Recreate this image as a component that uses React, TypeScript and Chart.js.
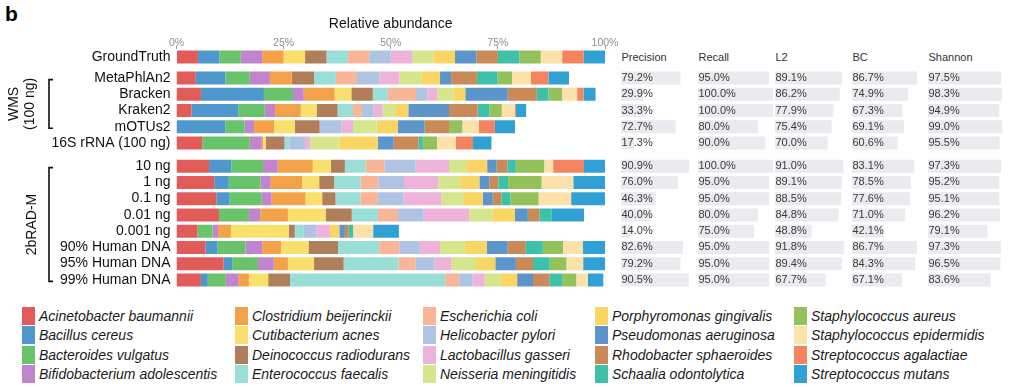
import React, { useEffect, useRef } from "react";
import { Chart, registerables } from "chart.js";

Chart.register(...registerables);

const FONT = "'Liberation Sans', Arial, Helvetica, sans-serif";
Chart.defaults.font.family = FONT;

// ---------- categories ----------
const species = [
  "Acinetobacter baumannii", "Bacillus cereus", "Bacteroides vulgatus", "Bifidobacterium adolescentis",
  "Clostridium beijerinckii", "Cutibacterium acnes", "Deinococcus radiodurans", "Enterococcus faecalis",
  "Escherichia coli", "Helicobacter pylori", "Lactobacillus gasseri", "Neisseria meningitidis",
  "Porphyromonas gingivalis", "Pseudomonas aeruginosa", "Rhodobacter sphaeroides", "Schaalia odontolytica",
  "Staphylococcus aureus", "Staphylococcus epidermidis", "Streptococcus agalactiae", "Streptococcus mutans",
];
const speciesColors = [
  "#E15C58", "#4E98CD", "#69C36B", "#C184CF",
  "#F4A24A", "#F9E06C", "#B17E5C", "#9ADED8",
  "#F8B597", "#AFC4E3", "#EDB3D8", "#D5E68D",
  "#F9D663", "#5C95CA", "#CA8A58", "#3DC1AA",
  "#93C25A", "#FCE1AA", "#F3845F", "#31A0D5",
];

const groundTruthLabels = ["GroundTruth"];
const wmsLabels = ["MetaPhlAn2", "Bracken", "Kraken2", "mOTUs2", "16S rRNA (100 ng)"];
const radLabels = ["10 ng", "1 ng", "0.1 ng", "0.01 ng", "0.001 ng", "90% Human DNA", "95% Human DNA", "99% Human DNA"];
const abundanceTicks = [0, 25, 50, 75, 100];

// ---------- relative abundance (%) per sample, species order ----------
const groundTruth = [5, 5, 5, 5, 5, 5, 5, 5, 5, 5, 5, 5, 5, 5, 5, 5, 5, 5, 5, 5];
const metaPhlAn2 = [4.5, 6.9, 5.7, 4.7, 5.1, 0, 5.2, 5.1, 4.9, 5.3, 4.6, 5.1, 4.4, 2.6, 6.0, 4.8, 3.4, 4.4, 4.1, 4.8];
const bracken = [5.7, 14.7, 6.8, 2.5, 7.2, 3.9, 5.0, 3.5, 6.6, 2.7, 2.3, 3.7, 2.8, 9.9, 6.8, 2.7, 3.2, 3.5, 1.5, 2.8];
const kraken2 = [3.5, 10.9, 6.2, 2.4, 6.0, 3.7, 4.9, 3.6, 2.1, 2.6, 2.2, 2.9, 3.1, 9.5, 6.7, 2.7, 2.9, 3.1, 0.2, 2.4];
const mOTUs2 = [0, 11.4, 4.5, 2.2, 4.7, 4.8, 5.8, 0, 0, 5.1, 2.7, 5.5, 5.0, 6.2, 5.7, 0, 3.1, 3.9, 3.7, 4.7];
const rRNA16S = [6.0, 0, 11.1, 2.8, 0.3, 0.6, 4.4, 1.2, 0, 3.6, 1.2, 6.8, 9.0, 3.7, 5.8, 1.0, 3.3, 4.4, 4.0, 4.3];
const rad10ng = [7.6, 5.2, 7.4, 3.4, 8.2, 4.2, 3.3, 4.8, 4.5, 7.2, 7.8, 4.2, 4.7, 2.2, 2.5, 2.0, 6.6, 2.1, 7.2, 5.0];
const rad1ng = [8.8, 3.4, 7.4, 2.4, 7.3, 4.0, 3.5, 6.2, 4.1, 6.0, 8.0, 5.1, 4.5, 2.3, 2.1, 2.3, 7.8, 7.4, 0, 7.6];
const rad01ng = [9.3, 3.1, 7.5, 2.3, 7.9, 3.9, 3.1, 5.8, 4.1, 6.0, 8.8, 5.0, 4.7, 2.3, 2.0, 2.1, 6.6, 7.6, 0, 7.9];
const rad001ng = [9.9, 0, 7.0, 2.7, 6.4, 8.8, 6.1, 6.1, 4.7, 6.0, 10.6, 5.5, 5.2, 3.0, 2.7, 2.9, 0, 0, 0, 7.5];
const rad0001ng = [4.9, 0, 3.5, 1.3, 3.0, 13.5, 1.4, 2.1, 0, 3.0, 3.1, 0, 2.2, 1.3, 0.9, 1.0, 0, 4.7, 0, 6.0];
const human90 = [6.8, 2.8, 6.5, 3.9, 4.4, 6.4, 6.9, 9.6, 4.7, 4.8, 4.7, 5.8, 5.1, 4.9, 4.2, 4.0, 4.7, 4.6, 0, 5.5];
const human95 = [11.0, 2.0, 6.0, 3.7, 3.3, 6.1, 6.9, 12.8, 4.0, 4.4, 4.0, 5.7, 4.5, 4.8, 4.0, 3.9, 3.9, 3.9, 0, 5.1];
const human99 = [5.7, 1.6, 4.2, 2.9, 2.5, 4.5, 5.1, 36.2, 3.3, 3.0, 2.9, 3.7, 3.9, 3.7, 3.8, 3.0, 3.3, 2.7, 0, 3.6];

const wmsAbundance = [metaPhlAn2, bracken, kraken2, mOTUs2, rRNA16S];
const radAbundance = [rad10ng, rad1ng, rad01ng, rad001ng, rad0001ng, human90, human95, human99];

// ---------- metrics (%), rows: WMS group then 2bRAD-M group ----------
const metricNames = ["Precision", "Recall", "L2", "BC", "Shannon"];
const precision = [79.2, 29.9, 33.3, 72.7, 17.3, 90.9, 76.0, 46.3, 40.0, 14.0, 82.6, 79.2, 90.5];
const recall = [95.0, 100.0, 100.0, 80.0, 90.0, 100.0, 95.0, 95.0, 80.0, 75.0, 95.0, 95.0, 95.0];
const l2 = [89.1, 86.2, 77.9, 75.4, 70.0, 91.0, 89.1, 88.5, 84.8, 48.8, 91.8, 89.4, 67.7];
const bc = [86.7, 74.9, 67.3, 69.1, 60.6, 83.1, 78.5, 77.6, 71.0, 42.1, 86.7, 84.3, 67.1];
const shannon = [97.5, 98.3, 94.9, 99.0, 95.5, 97.3, 95.2, 95.1, 96.2, 79.1, 97.3, 96.5, 83.6];
const metricValues = [precision, recall, l2, bc, shannon];

// ---------- layout constants ----------
const CANVAS_W = 620;
const AXIS_W = 176.5;
const PAD_RIGHT = 15;
const metricLefts = [621, 698, 775, 852, 928];
const METRIC_W = 76;
const legendLefts = [22, 235, 423, 595, 794];

const bracketPlugin = {
  id: "groupBracket",
  afterDraw(chart: any, _args: any, opts: any) {
    if (!opts || !opts.lines) return;
    const ys = chart.scales.y;
    const y0 = ys.getPixelForValue(opts.from) + 1.5;
    const y1 = ys.getPixelForValue(opts.to) + 1.5;
    const ctx = chart.ctx;
    ctx.save();
    ctx.strokeStyle = "#111";
    ctx.lineWidth = 1.6;
    ctx.beginPath();
    ctx.moveTo(opts.x + 4, y0);
    ctx.lineTo(opts.x, y0);
    ctx.lineTo(opts.x, y1);
    ctx.lineTo(opts.x + 4, y1);
    ctx.stroke();
    ctx.fillStyle = "#111";
    ctx.font = `14px ${FONT}`;
    ctx.textAlign = "center";
    ctx.textBaseline = "middle";
    const lines: string[] = opts.lines;
    const xs: number[] = opts.textX;
    lines.forEach((line, i) => {
      ctx.save();
      ctx.translate(xs[i], (y0 + y1) / 2);
      ctx.rotate(-Math.PI / 2);
      ctx.fillText(line, 0, 0);
      ctx.restore();
    });
    ctx.restore();
  },
};

const valueLabelPlugin = {
  id: "valueLabels",
  afterDatasetsDraw(chart: any) {
    const ctx = chart.ctx;
    const meta = chart.getDatasetMeta(0);
    const values = chart.data.datasets[0].data as number[];
    ctx.save();
    ctx.fillStyle = "#3a3a3a";
    ctx.font = `11px ${FONT}`;
    ctx.textAlign = "left";
    ctx.textBaseline = "middle";
    meta.data.forEach((bar: any, i: number) => {
      ctx.fillText(values[i].toFixed(1) + "%", chart.chartArea.left + 0.5, bar.y);
    });
    ctx.restore();
  },
};

function abundanceConfig(labels: string[], rows: number[][], showAxis: boolean, bracket: any) {
  const datasets = species.map((name, s) => ({
    label: name,
    data: rows.map((r) => r[s]),
    backgroundColor: speciesColors[s],
    borderWidth: 0,
    barPercentage: 1,
    categoryPercentage: 0.8,
  }));
  return {
    type: "bar",
    data: { labels, datasets },
    options: {
      indexAxis: "y",
      responsive: false,
      animation: false,
      layout: { padding: { left: 0, right: PAD_RIGHT, top: 0, bottom: 0 } },
      plugins: {
        legend: { display: false },
        tooltip: { enabled: false },
        groupBracket: bracket,
      },
      scales: {
        x: {
          display: showAxis,
          position: "top",
          stacked: true,
          min: 0,
          max: 100,
          afterBuildTicks: (s: any) => {
            s.ticks = abundanceTicks.map((v) => ({ value: v }));
          },
          ticks: {
            callback: (v: any) => v + "%",
            color: "#8f8f8f",
            font: { size: 10.5, lineHeight: 1 },
            padding: -2,
            maxRotation: 0,
            autoSkip: false,
          },
          grid: { drawOnChartArea: false, drawTicks: true, tickLength: 3, color: "#9a9a9a", lineWidth: 1 },
          border: { display: false },
          title: {
            display: true,
            text: "Relative abundance",
            color: "#111",
            font: { size: 14 },
            padding: { top: 16, bottom: 0 },
          },
          afterFit: (s: any) => {
            if (showAxis) s.height = 49;
          },
        },
        y: {
          stacked: true,
          ticks: { color: "#111", font: { size: 14 }, padding: 6, autoSkip: false },
          grid: { display: false, drawTicks: false },
          border: { display: false },
          afterFit: (s: any) => {
            s.width = AXIS_W;
            s.paddingTop = 0;
            s.paddingBottom = 0;
          },
        },
      },
    },
    plugins: [bracketPlugin],
  };
}

function metricConfig(labels: string[], values: number[]) {
  return {
    type: "bar",
    data: {
      labels,
      datasets: [
        { data: values, backgroundColor: "#EAEAEF", borderWidth: 0, barPercentage: 1, categoryPercentage: 0.8 },
      ],
    },
    options: {
      indexAxis: "y",
      responsive: false,
      animation: false,
      layout: { padding: 0 },
      plugins: { legend: { display: false }, tooltip: { enabled: false } },
      scales: {
        x: { display: false, min: 0, max: (100 * METRIC_W) / 75 },
        y: { display: false },
      },
    },
    plugins: [valueLabelPlugin],
  };
}

function ChartCanvas(props: { left: number; top: number; width: number; height: number; build: () => any }) {
  const ref = useRef<HTMLCanvasElement>(null);
  useEffect(() => {
    const chart = new Chart(ref.current as HTMLCanvasElement, props.build());
    return () => chart.destroy();
  }, []);
  return (
    <canvas
      ref={ref}
      width={props.width}
      height={props.height}
      style={{ position: "absolute", left: props.left, top: props.top, width: props.width, height: props.height }}
    />
  );
}

export default function App() {
  return (
    <div style={{ position: "absolute", left: 0, top: 0, width: 1015, height: 387, background: "#fff", fontFamily: FONT }}>
      <div style={{ position: "absolute", left: 5, top: 3, font: `bold 21px/21px ${FONT}`, color: "#000" }}>b</div>

      <ChartCanvas left={0} top={0} width={CANVAS_W} height={65}
        build={() => abundanceConfig(groundTruthLabels, [groundTruth], true, false)} />
      <ChartCanvas left={0} top={70} width={CANVAS_W} height={81}
        build={() => abundanceConfig(wmsLabels, wmsAbundance, false,
          { lines: ["WMS", "(100 ng)"], textX: [14.5, 30.5], from: 0, to: 3, x: 49 })} />
      <ChartCanvas left={0} top={158} width={CANVAS_W} height={130}
        build={() => abundanceConfig(radLabels, radAbundance, false,
          { lines: ["2bRAD-M"], textX: [32], from: 0, to: 7, x: 49 })} />

      {metricNames.map((name, m) => (
        <React.Fragment key={name}>
          <div style={{ position: "absolute", left: metricLefts[m] + 0.5, top: 51, font: `11px/13px ${FONT}`, color: "#333", whiteSpace: "nowrap" }}>
            {name}
          </div>
          <ChartCanvas left={metricLefts[m]} top={70} width={METRIC_W} height={81}
            build={() => metricConfig(wmsLabels, metricValues[m].slice(0, wmsLabels.length))} />
          <ChartCanvas left={metricLefts[m]} top={158} width={METRIC_W} height={130}
            build={() => metricConfig(radLabels, metricValues[m].slice(wmsLabels.length))} />
        </React.Fragment>
      ))}

      {species.map((name, i) => {
        const col = Math.floor(i / 4);
        const row = i % 4;
        return (
          <div key={name} style={{ position: "absolute", left: legendLefts[col], top: 306.7 + row * 19.4, height: 18, display: "flex", alignItems: "center" }}>
            <span style={{ display: "inline-block", width: 13, height: 18, background: speciesColors[i] }} />
            <span style={{ marginLeft: 4, font: `italic 14px/18px ${FONT}`, color: "#1a1a1a", whiteSpace: "nowrap" }}>{name}</span>
          </div>
        );
      })}
    </div>
  );
}
